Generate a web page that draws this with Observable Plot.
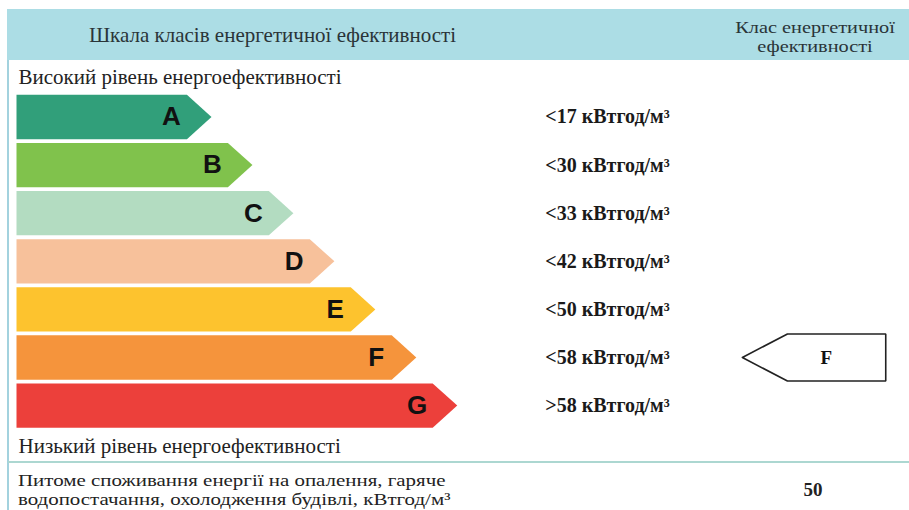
<!DOCTYPE html>
<html>
<head>
<meta charset="utf-8">
<script src="https://cdn.jsdelivr.net/npm/d3@7"></script>
<script src="https://cdn.jsdelivr.net/npm/@observablehq/plot@0.6"></script>
<style>
  html, body { margin: 0; padding: 0; background: #fff; width: 909px; height: 510px; overflow: hidden; }
  body { position: relative; font-family: "Liberation Serif", "DejaVu Serif", serif; color: #222; }
  .abs { position: absolute; }
  #header { left: 7px; top: 9px; width: 902px; height: 51px; background: #acdde5; }
  #hleft { left: 0; width: 545px; top: 23px; text-align: center; font-size: 21px; line-height: 24px; color: #2a3438; white-space: nowrap; }
  #hright { left: 713px; width: 204px; top: 18px; text-align: center; font-size: 16px; line-height: 19px; color: #2a3438; white-space: nowrap; transform: scaleX(1.27); transform-origin: 102px 0; }
  #lborder { left: 7px; top: 60px; width: 2px; height: 450px; background: #a3d2de; }
  #sep { left: 8px; top: 461px; width: 901px; height: 2px; background: #acd7d1; }
  #chart { left: 9px; top: 60px; }
  #foot { left: 18px; top: 471px; font-size: 17px; line-height: 19px; color: #222; white-space: nowrap; transform: scaleX(1.23); transform-origin: 0 0; }
  #val { left: 780px; width: 66px; text-align: center; top: 479px; font-size: 19px; font-weight: bold; color: #222; }
</style>
</head>
<body>
<div id="header" class="abs"></div>
<div id="hleft" class="abs">Шкала класів енергетичної ефективності</div>
<div id="hright" class="abs">Клас енергетичної<br>ефективності</div>
<div id="lborder" class="abs"></div>
<div id="chart" class="abs"></div>
<div id="sep" class="abs"></div>
<div id="foot" class="abs">Питоме споживання енергії на опалення, гаряче<br>водопостачання, охолодження будівлі, кВтгод/м³</div>
<div id="val" class="abs"></div>
<script>
// ---- data ----
const classes = ["A", "B", "C", "D", "E", "F", "G"];
const thresholds = ["<17 кВтгод/м³", "<30 кВтгод/м³", "<33 кВтгод/м³", "<42 кВтгод/м³", "<50 кВтгод/м³", "<58 кВтгод/м³", ">58 кВтгод/м³"];
const classColors = ["#319f7a", "#80c24c", "#b3dcc1", "#f7c19b", "#fdc32e", "#f5943c", "#ec403b"];
const topLabel = "Високий рівень енергоефективності";
const bottomLabel = "Низький рівень енергоефективності";
const currentClass = "F";
const currentValue = 50;

document.getElementById("val").textContent = currentValue;

// ---- layout (scale units: one x unit = one class step, one y unit = one class row) ----
const baseLen = 4.76;   // length of the shortest arrow tip in class steps
const tipLen = 0.6;
const half = 0.46;
const labelCol = 12.91;
const markerTip = 17.72, markerBody = 18.82, markerEnd = 21.22, markerHalf = 0.49;

const rows = classes.map((c, i) => ({cls: c, rank: i, label: thresholds[i], color: classColors[i], tip: baseLen + i}));

const shapePts = rows.flatMap(r => [
  {cls: r.cls, color: r.color, x: 0, y: r.rank - half},
  {cls: r.cls, color: r.color, x: r.tip - tipLen, y: r.rank - half},
  {cls: r.cls, color: r.color, x: r.tip, y: r.rank},
  {cls: r.cls, color: r.color, x: r.tip - tipLen, y: r.rank + half},
  {cls: r.cls, color: r.color, x: 0, y: r.rank + half}
]);

const cur = rows.find(r => r.cls === currentClass);
const markerPts = [
  {x: markerTip, y: cur.rank},
  {x: markerBody, y: cur.rank - markerHalf},
  {x: markerEnd, y: cur.rank - markerHalf},
  {x: markerEnd, y: cur.rank + markerHalf},
  {x: markerBody, y: cur.rank + markerHalf},
  {x: markerTip, y: cur.rank}
];

const chart = Plot.plot({
  width: 900,
  height: 400,
  margin: 0,
  x: {domain: [0, 21.8], range: [7, 900], axis: null},
  y: {domain: [0, 6], range: [56.5, 345.1], axis: null},
  color: {type: "identity"},
  marks: [
    Plot.line(shapePts, {x: "x", y: "y", z: "cls", fill: "color", stroke: "none", curve: "linear-closed"}),
    Plot.text(rows, {x: d => d.tip - 0.98, y: "rank", text: "cls", fill: "#111", fontSize: 26, fontWeight: "bold", fontFamily: "Liberation Sans, Arial, sans-serif"}),
    Plot.text(rows, {x: () => labelCol, y: "rank", text: "label", textAnchor: "start", fill: "#1a1a1a", fontSize: 20, fontWeight: "bold", fontFamily: "Liberation Serif, serif"}),
    Plot.line(markerPts, {x: "x", y: "y", stroke: "#222", strokeWidth: 1.6, fill: "white", strokeLinejoin: "miter"}),
    Plot.text([cur], {x: () => (markerBody + markerEnd) / 2 - 0.25, y: "rank", text: "cls", fill: "#111", fontSize: 19, fontWeight: "bold", fontFamily: "Liberation Serif, serif"}),
    Plot.text([topLabel], {frameAnchor: "top-left", dx: 9, dy: 17, text: d => d, textAnchor: "start", lineAnchor: "middle", fontSize: 21, fill: "#222", fontFamily: "Liberation Serif, serif"}),
    Plot.text([bottomLabel], {frameAnchor: "top-left", dx: 9, dy: 386, text: d => d, textAnchor: "start", lineAnchor: "middle", fontSize: 21, fill: "#222", fontFamily: "Liberation Serif, serif"})
  ]
});
document.getElementById("chart").appendChild(chart);
</script>
</body>
</html>
